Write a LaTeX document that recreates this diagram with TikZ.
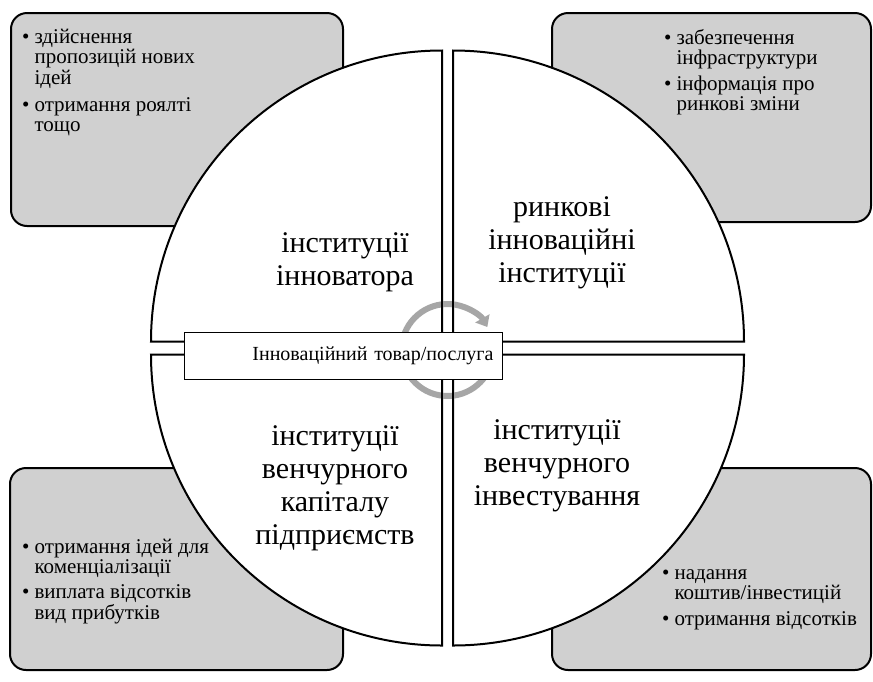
\documentclass[tikz,border=0pt]{standalone}
\usepackage{fontspec}
\setmainfont{Liberation Serif}
\usepackage{tikz}
\usetikzlibrary{arrows.meta,positioning}
\definecolor{boxgray}{HTML}{D0D0D0}
\definecolor{arrowgray}{HTML}{A6A6A6}

\newcommand{\itemtab}[1]{\begin{tabular}{@{}l@{\hspace{5pt}}l@{}}#1\end{tabular}}

\begin{document}
\begin{tikzpicture}[x=1pt,y=-1pt,
    cornerbox/.style={draw=black, fill=boxgray, line width=2pt, rounded corners=16pt},
    sector/.style={draw=black, fill=white, line width=2pt},
    sectorline/.style={draw=black, line width=2pt},
    points/.style={inner sep=0pt, anchor=north west, align=left,
                   font=\fontsize{21}{20}\selectfont},
    title/.style={inner sep=0pt, align=center, font=\fontsize{30}{33}\selectfont},
    goods/.style={draw=black, fill=white, line width=1pt, inner sep=0pt,
                  minimum width=318pt, minimum height=47pt, anchor=north west,
                  font=\fontsize{20}{22}\selectfont, text width=300pt, align=right},
    cycle arrow/.style={draw=arrowgray, line width=6pt,
                        -{Triangle[width=16pt,length=10pt]}},
]
\useasboundingbox (0,0) rectangle (873,681);

% corner boxes
\path[cornerbox] (11,13) rectangle (343,226);
\path[cornerbox] (552,13) rectangle (871,222);
\path[cornerbox] (10,468) rectangle (343,670);
\path[cornerbox] (552,468) rectangle (871,670);

% quarter centres
\coordinate (qtl) at (442,341.5);
\coordinate (qtr) at (453,341.5);
\coordinate (qbl) at (442,354.5);
\coordinate (qbr) at (453,354.5);
\coordinate (mid) at (447.5,350);

\path[sector] (qtl) -- ++(180:291) arc[start angle=180, end angle=270, radius=291] -- cycle;
\path[sector] (qtr) -- ++(270:291) arc[start angle=270, end angle=360, radius=291] -- cycle;
\path[sector] (qbl) -- ++(90:291) arc[start angle=90, end angle=180, radius=291] -- cycle;
\path[sector] (qbr) -- ++(0:291) arc[start angle=0, end angle=90, radius=291] -- cycle;

% cycle arrow
\draw[cycle arrow] (mid) ++(10:46) arc[start angle=10, end angle=330, radius=46];

\draw[sectorline] (qtl) -- ++(270:291);
\draw[sectorline] (qtr) -- ++(270:291);
\draw[sectorline] (qbl) -- ++(90:291);
\draw[sectorline] (qbr) -- ++(90:291);

\node[goods] (product) at (184,332) {Інноваційний товар/послуга};

% labels of the quarters
\node[title] (innovator) at (345,262) {інституції\\інноватора};
\node[title] (market) at (562,243) {ринкові\\інноваційні\\інституції};
\node[title] (enterprise) at (335,488) {інституції\\венчурного\\капіталу\\підприємств};
\node[title] (investing) at (557,466) {інституції\\венчурного\\інвестування};

% lists in the corners
\node[points] (ideas) at (22,29) {\itemtab{\textbullet & здійснення\\
  & пропозицій нових\\ & ідей\\[7pt]
  \textbullet & отримання роялті\\ & тощо}};
\node[points] (infra) at (664,29) {\itemtab{\textbullet & забезпечення\\
  & інфраструктури\\[5pt]
  \textbullet & інформація про\\ & ринкові зміни}};
\node[points] (commerce) at (22,539) {\itemtab{\textbullet & отримання ідей для\\
  & коменціалізації\\[5pt]
  \textbullet & виплата відсотків\\ & вид прибутків}};
\node[points] (funds) at (662,565) {\itemtab{\textbullet & надання\\
  & коштив/інвестицій\\[6pt]
  \textbullet & отримання відсотків}};

\end{tikzpicture}
\end{document}
